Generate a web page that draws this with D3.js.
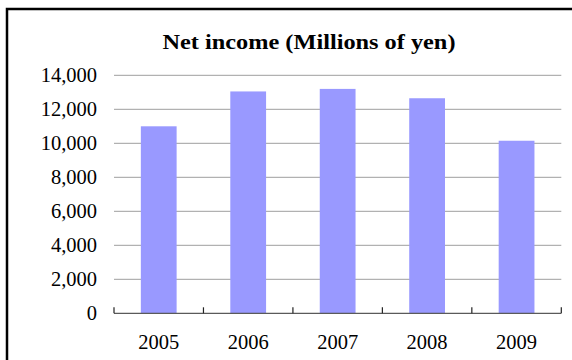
<!DOCTYPE html>
<html>
<head>
<meta charset="utf-8">
<script src="https://cdn.jsdelivr.net/npm/d3@7"></script>
<style>
  html, body { margin: 0; padding: 0; background: #fff; }
  svg { display: block; }
  svg text { font-family: "Liberation Serif", "Times New Roman", serif; }
</style>
</head>
<body>
<svg id="chart" width="572" height="360"></svg>
<script>
// Net income by fiscal year (millions of yen)
const years = ["2005", "2006", "2007", "2008", "2009"];
const netIncome = [11000, 13050, 13200, 12650, 10150];
const yTicks = [0, 2000, 4000, 6000, 8000, 10000, 12000, 14000];
const title = "Net income (Millions of yen)";

const svg = d3.select("#chart");

const plot = { left: 114, right: 561.3, top: 75.3, bottom: 313.3 };

// Outer frame (extends past the right and bottom edges)
svg.append("rect")
  .attr("x", 7).attr("y", 9)
  .attr("width", 600).attr("height", 400)
  .attr("fill", "#fff")
  .attr("stroke", "#000")
  .attr("stroke-width", 2.5);

const x = d3.scaleBand()
  .domain(years)
  .range([plot.left, plot.right])
  .paddingInner(0.6)
  .paddingOuter(0.3);

const y = d3.scaleLinear()
  .domain([0, 14000])
  .range([plot.bottom, plot.top]);

// Horizontal gridlines
svg.append("g")
  .selectAll("line")
  .data(yTicks.filter(d => d > 0))
  .join("line")
  .attr("x1", plot.left).attr("x2", plot.right)
  .attr("y1", d => y(d)).attr("y2", d => y(d))
  .attr("stroke", "#9e9e9e")
  .attr("stroke-width", 1);

// Bars
svg.append("g")
  .selectAll("rect")
  .data(years.map((yr, i) => ({ yr, v: netIncome[i] })))
  .join("rect")
  .attr("x", d => x(d.yr))
  .attr("width", x.bandwidth())
  .attr("y", d => y(d.v))
  .attr("height", d => y(0) - y(d.v))
  .attr("fill", "#9999ff");

// Y axis labels
const yAxis = svg.append("g")
  .attr("transform", `translate(${plot.left - 17},0)`)
  .call(d3.axisLeft(y).tickValues(yTicks).tickSize(0).tickPadding(0)
    .tickFormat(d3.format(",")));
yAxis.attr("font-family", null).attr("font-size", null);
yAxis.select(".domain").remove();
yAxis.selectAll("text")
  .style("font-size", "20.5px")
  .attr("fill", "#000")
  .attr("dy", "0.3em");

// X axis: baseline with upward tick marks at category boundaries
const bounds = years.map(yr => x(yr) - x.step() * x.paddingInner() / 2)
  .concat([plot.right]);
bounds[0] = plot.left;
svg.append("line")
  .attr("x1", plot.left).attr("x2", plot.right)
  .attr("y1", y(0)).attr("y2", y(0))
  .attr("stroke", "#5a5a5a").attr("stroke-width", 1.3);
svg.append("g")
  .selectAll("line")
  .data(bounds)
  .join("line")
  .attr("x1", d => d).attr("x2", d => d)
  .attr("y1", y(0)).attr("y2", y(0) - 6)
  .attr("stroke", "#222").attr("stroke-width", 1.2);

const xAxis = svg.append("g")
  .attr("transform", `translate(0,${plot.bottom})`)
  .call(d3.axisBottom(x).tickSize(0).tickPadding(0));
xAxis.attr("font-family", null).attr("font-size", null);
xAxis.select(".domain").remove();
xAxis.selectAll("text")
  .style("font-size", "20.5px")
  .attr("fill", "#000")
  .attr("dy", "1.75em");

// Title
svg.append("text")
  .attr("x", 309).attr("y", 48.5)
  .attr("text-anchor", "middle")
  .attr("textLength", 293)
  .attr("lengthAdjust", "spacingAndGlyphs")
  .style("font-weight", "bold")
  .style("font-size", "21.5px")
  .attr("fill", "#000")
  .text(title);
</script>
</body>
</html>
